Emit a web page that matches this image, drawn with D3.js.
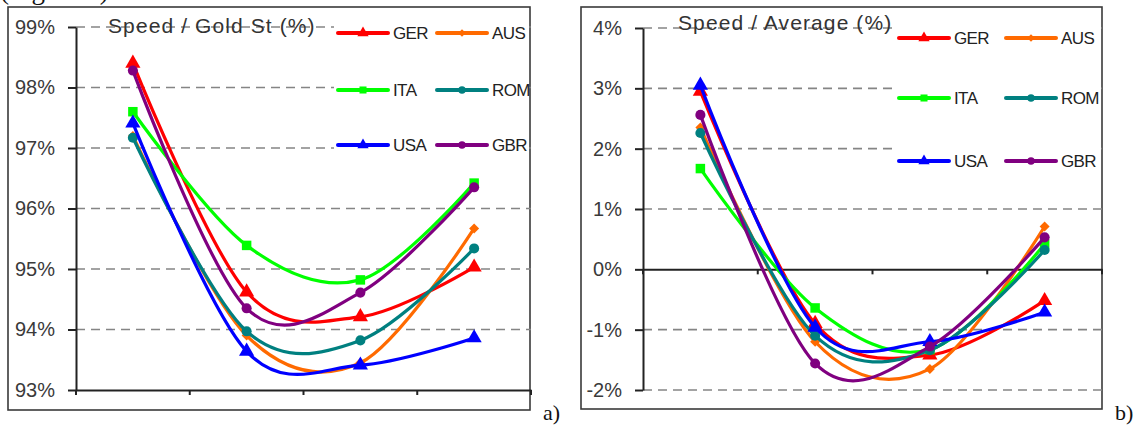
<!DOCTYPE html>
<html>
<head>
<meta charset="utf-8">
<script src="https://cdn.jsdelivr.net/npm/d3@7"></script>
<style>
  html, body { margin: 0; padding: 0; background: #fff; }
  svg { display: block; font-family: "Liberation Sans", Arial, sans-serif; }
  .serif { font-family: "Liberation Serif", "Times New Roman", serif; }
</style>
</head>
<body>
<svg id="fig" width="1139" height="425"></svg>
<script>
// ---- data ---------------------------------------------------------------
const categories = ["1", "2", "3", "4"];
const seriesNames = ["GER", "AUS", "ITA", "ROM", "USA", "GBR"];

// a) speed relative to the gold standard (%)
const goldGER = [98.40, 94.62, 94.21, 95.03];
const goldAUS = [97.20, 93.90, 93.45, 95.67];
const goldITA = [97.60, 95.39, 94.82, 96.42];
const goldROM = [97.17, 93.97, 93.82, 95.34];
const goldUSA = [97.41, 93.64, 93.41, 93.86];
const goldGBR = [98.28, 94.35, 94.61, 96.35];
const goldTicks = [93, 94, 95, 96, 97, 98, 99];

// b) speed relative to the average (%)
const avgGER = [2.95, -0.90, -1.42, -0.52];
const avgAUS = [2.35, -1.20, -1.65, 0.71];
const avgITA = [1.67, -0.64, -1.33, 0.42];
const avgROM = [2.26, -1.10, -1.34, 0.32];
const avgUSA = [3.05, -0.96, -1.20, -0.71];
const avgGBR = [2.56, -1.56, -1.28, 0.53];
const avgTicks = [-2, -1, 0, 1, 2, 3, 4];

// ---- styling --------------------------------------------------------------
const colors = { GER: "#ff0000", AUS: "#ff6a00", ITA: "#00ff00", ROM: "#008080", USA: "#0000ff", GBR: "#800080" };
const markers = { GER: "triangle", AUS: "diamond", ITA: "square", ROM: "circle", USA: "triangle", GBR: "circle" };

const svg = d3.select("#fig");

function markerPath(kind, scale) {
  if (kind === "triangle") return d3.symbol(d3.symbolTriangle, 100 * scale)();
  if (kind === "square") return d3.symbol(d3.symbolSquare, 90 * scale)();
  if (kind === "circle") return d3.symbol(d3.symbolCircle, 80 * scale)();
  return d3.symbol(d3.symbolSquare, 50 * scale)(); // rotated to a diamond
}

function drawPanel(cfg) {
  const g = svg.append("g");

  // outer frame
  g.append("rect")
    .attr("x", cfg.frame[0]).attr("y", cfg.frame[1])
    .attr("width", cfg.frame[2] - cfg.frame[0]).attr("height", cfg.frame[3] - cfg.frame[1])
    .attr("fill", "#fff").attr("stroke", "#3a3a3a").attr("stroke-width", 1.6);

  const x = d3.scaleBand().domain(categories).range([cfg.left, cfg.right]);
  const y = d3.scaleLinear().domain([cfg.ticks[0], cfg.ticks[cfg.ticks.length - 1]])
    .range([cfg.bottom, cfg.top]);
  const cx = c => x(c) + x.bandwidth() / 2;

  // dashed gridlines
  g.append("g").selectAll("line")
    .data(cfg.ticks.filter(t => t !== cfg.baseValue))
    .join("line")
    .attr("x1", cfg.left).attr("x2", cfg.right)
    .attr("y1", d => y(d)).attr("y2", d => y(d))
    .attr("stroke", "#858585").attr("stroke-width", 1.6)
    .attr("stroke-dasharray", "9,6");

  // legend background and entries
  g.append("rect")
    .attr("x", cfg.legendBox[0]).attr("y", cfg.legendBox[1])
    .attr("width", cfg.legendBox[2] - cfg.legendBox[0])
    .attr("height", cfg.legendBox[3] - cfg.legendBox[1])
    .attr("fill", "#fff");

  seriesNames.forEach((name, i) => {
    const col = i % 2, row = Math.floor(i / 2);
    const lx = cfg.legendCols[col], ly = cfg.legendRows[row];
    const item = g.append("g");
    item.append("line")
      .attr("x1", lx).attr("x2", lx + cfg.legendLine)
      .attr("y1", ly).attr("y2", ly)
      .attr("stroke", colors[name]).attr("stroke-width", 4)
      .attr("stroke-linecap", "round");
    item.append("path")
      .attr("d", markerPath(markers[name], 0.55))
      .attr("transform", `translate(${lx + cfg.legendLine / 2},${ly})` + (markers[name] === "diamond" ? " rotate(45)" : ""))
      .attr("fill", colors[name]);
    item.append("text")
      .attr("x", lx + cfg.legendLine + 5).attr("y", ly)
      .attr("dy", "0.36em")
      .attr("font-size", 17).attr("fill", "#222")
      .attr("letter-spacing", "-0.6")
      .text(name);
  });

  // title
  g.append("text")
    .attr("x", cfg.titleX).attr("y", cfg.titleY)
    .attr("font-size", 21).attr("fill", "#333")
    .attr("letter-spacing", "1.1")
    .text(cfg.title);

  // value axis
  const yAxis = d3.axisLeft(y)
    .tickValues(cfg.ticks)
    .tickFormat(d => d + "%")
    .tickSize(8).tickSizeOuter(0).tickPadding(13);
  const ya = g.append("g").attr("transform", `translate(${cfg.left},0)`).call(yAxis);
  ya.attr("font-family", null);
  ya.select(".domain").attr("stroke", "#222").attr("stroke-width", 2);
  ya.selectAll(".tick line").attr("stroke", "#222").attr("stroke-width", 2);
  ya.selectAll(".tick text").attr("font-size", 20).attr("fill", "#3a3a3a");

  // category axis with ticks between categories
  const baseY = y(cfg.baseValue);
  const xAxis = d3.axisBottom(x).tickSize(0).tickSizeOuter(0).tickFormat("");
  const xa = g.append("g").attr("transform", `translate(0,${baseY})`).call(xAxis);
  xa.select(".domain").attr("stroke", "#222").attr("stroke-width", 2);
  const bounds = categories.map(c => x(c)).concat([x.range()[1]]);
  xa.selectAll(".sep").data(bounds).join("line")
    .attr("class", "sep")
    .attr("x1", d => d).attr("x2", d => d)
    .attr("y1", 0).attr("y2", 5)
    .attr("stroke", "#222").attr("stroke-width", 2);

  // series
  const line = d3.line()
    .x((d, i) => cx(categories[i]))
    .y(d => y(d))
    .curve(d3.curveCardinal.tension(0));

  seriesNames.forEach(name => {
    const vals = cfg.series[name];
    const s = g.append("g");
    s.append("path")
      .attr("d", line(vals))
      .attr("fill", "none")
      .attr("stroke", colors[name])
      .attr("stroke-width", 3.2)
      .attr("stroke-linejoin", "round");
    s.selectAll("path.mk").data(vals).join("path")
      .attr("class", "mk")
      .attr("d", markerPath(markers[name], 1))
      .attr("transform", (d, i) => `translate(${cx(categories[i])},${y(d)})` + (markers[name] === "diamond" ? " rotate(45)" : ""))
      .attr("fill", colors[name]);
  });

  // panel label
  svg.append("text")
    .attr("class", "serif")
    .attr("x", cfg.tagX).attr("y", 420)
    .attr("font-size", 22).attr("fill", "#111")
    .text(cfg.tag);
}

// caption line above the figures (mostly out of view)
svg.append("text")
  .attr("class", "serif")
  .attr("x", 0).attr("y", -1)
  .attr("font-size", 27).attr("fill", "#111")
  .text("(Figure 1)");

drawPanel({
  frame: [8, 7, 530, 410],
  left: 76, right: 531, top: 27, bottom: 390,
  ticks: goldTicks, baseValue: 93,
  title: "Speed / Gold St (%)", titleX: 108, titleY: 33,
  legendBox: [334, 12, 529, 168],
  legendCols: [338, 437], legendRows: [33, 90, 145], legendLine: 50,
  series: { GER: goldGER, AUS: goldAUS, ITA: goldITA, ROM: goldROM, USA: goldUSA, GBR: goldGBR },
  tag: "a)", tagX: 543
});

drawPanel({
  frame: [581, 7, 1102, 409],
  left: 643, right: 1102, top: 28, bottom: 390,
  ticks: avgTicks, baseValue: 0,
  title: "Speed / Average (%)", titleX: 678, titleY: 30,
  legendBox: [895, 12, 1101, 178],
  legendCols: [899, 1006], legendRows: [38, 98, 161], legendLine: 50,
  series: { GER: avgGER, AUS: avgAUS, ITA: avgITA, ROM: avgROM, USA: avgUSA, GBR: avgGBR },
  tag: "b)", tagX: 1115
});
</script>
</body>
</html>
